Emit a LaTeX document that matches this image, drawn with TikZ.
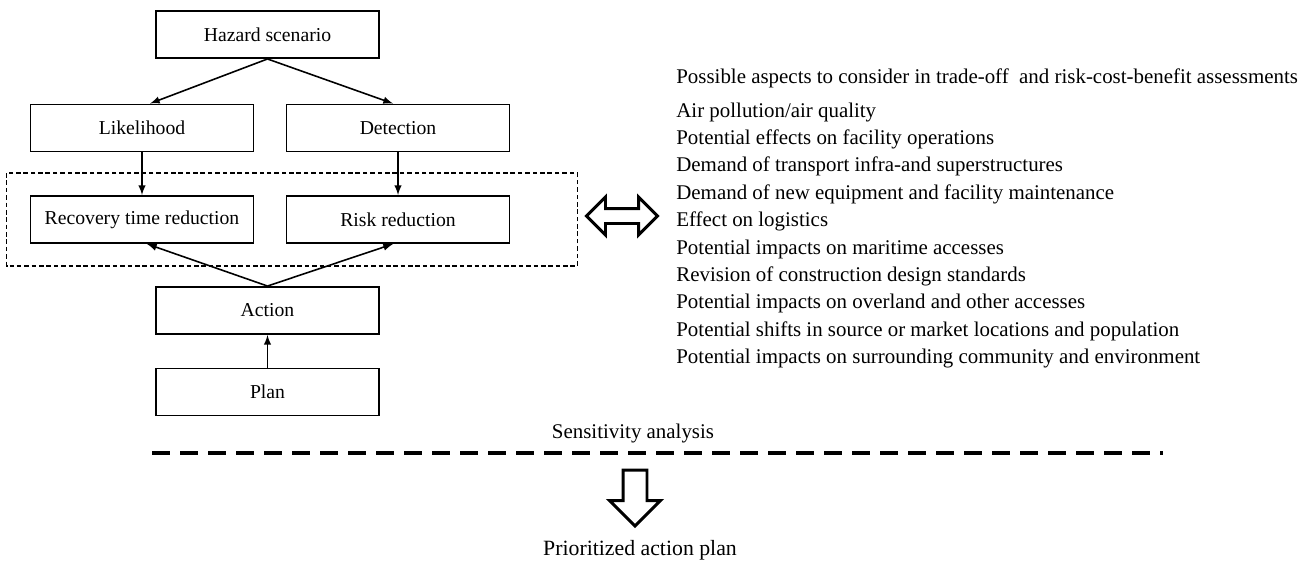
\documentclass[tikz,border=0pt]{standalone}
\usepackage{fontspec}
\setmainfont{Liberation Serif}
\usetikzlibrary{shapes.arrows,calc}

\tikzset{
    stepbox/.style={draw, line width=1.1pt, minimum width=4.46cm, minimum height=0.94cm,
        inner sep=0pt, font=\fontsize{11.2}{13}\selectfont},
    link/.style={->, line width=0.9pt},
    listtext/.style={anchor=west, inner sep=0pt, font=\fontsize{11.9}{14}\selectfont},
    bigarrow/.style={draw, line width=1.7pt, inner xsep=0pt},
}

\begin{document}
\begin{tikzpicture}[>=latex]
    \useasboundingbox (0,0) rectangle (26.28,-11.22);

    % flow chart
    \node[stepbox] (haz)  at (5.35,-0.69) {Hazard scenario};
    \node[stepbox] (lik)  at (2.84,-2.56) {Likelihood};
    \node[stepbox] (det)  at (7.96,-2.56) {Detection};
    \node[stepbox] (rec)  at (2.84,-4.39) {Recovery time reduction};
    \node[stepbox] (risk) at (7.96,-4.39) {Risk reduction};
    \node[stepbox] (act)  at (5.35,-6.21) {Action};
    \node[stepbox] (plan) at (5.35,-7.84) {Plan};

    \draw[link] (haz.south) -- ([xshift=0.16cm]lik.north);
    \draw[link] (haz.south) -- ([xshift=-0.1cm]det.north);
    \draw[link] (lik) -- (rec);
    \draw[link] (det) -- (risk);
    \draw[link] (act.north) -- ([xshift=0.1cm]rec.south);
    \draw[link] (act.north) -- ([xshift=-0.1cm]risk.south);
    \draw[link] (plan) -- (act);

    % group of the two reductions
    \draw[line width=0.9pt, dash pattern=on 2.6pt off 1.6pt]
        ($(rec.north west)+(-0.46,0.44)$) rectangle ($(risk.south east)+(1.34,-0.44)$);

    \node[bigarrow, double arrow, inner ysep=0.12cm, minimum height=1.42cm,
        double arrow head extend=0.23cm] (dbl) at (12.44,-4.32) {};

    % aspects
    \node[listtext] (head) at (13.52,-1.56)
        {Possible aspects to consider in trade-off~ and risk-cost-benefit assessments};
    \foreach \txt [count=\i] in {Air pollution/air quality,
        Potential effects on facility operations,
        Demand of transport infra-and superstructures,
        Demand of new equipment and facility maintenance,
        Effect on logistics,
        Potential impacts on maritime accesses,
        Revision of construction design standards,
        Potential impacts on overland and other accesses,
        Potential shifts in source or market locations and population,
        Potential impacts on surrounding community and environment}
        \node[listtext] (asp\i) at (13.52,{-2.24-0.548*(\i-1)}) {\txt};

    % sensitivity analysis
    \coordinate (sl) at (3.04,-9.06);
    \coordinate (sr) at (23.26,-9.06);
    \draw[line width=2.3pt, dash pattern=on 0.36cm off 0.2cm] (sl) -- (sr);
    \node[listtext, anchor=center] (sens) at (12.66,-8.66) {Sensitivity analysis};
    \node[bigarrow, single arrow, rotate=-90, inner ysep=0.21cm, minimum height=1.12cm,
        single arrow head extend=0.27cm] (down) at (12.7,-9.84) {};
    \node[listtext, anchor=center, font=\fontsize{12.4}{14}\selectfont] (prio) at (12.8,-11.0)
        {Prioritized action plan};
\end{tikzpicture}
\end{document}
